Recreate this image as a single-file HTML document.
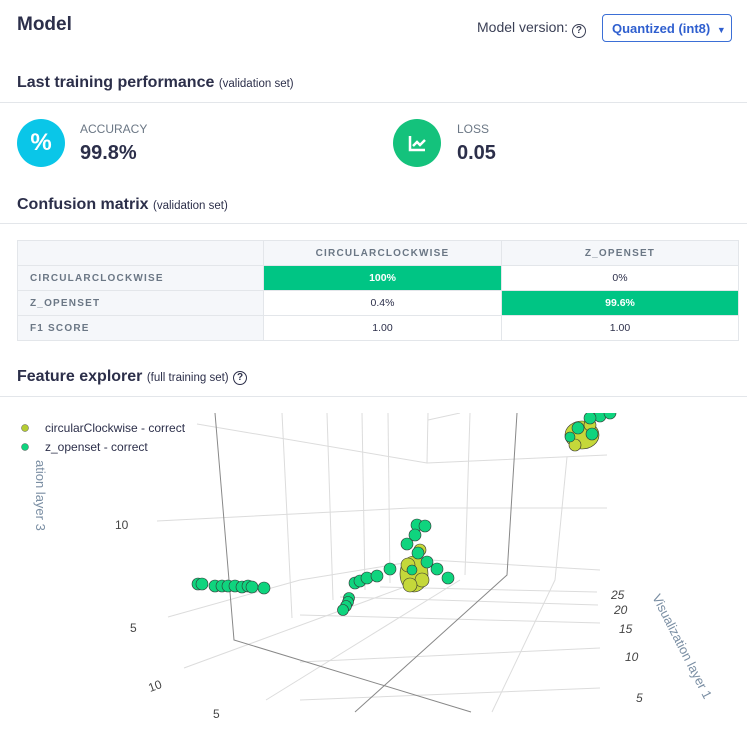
<!DOCTYPE html>
<html><head><meta charset="utf-8"><style>
*{margin:0;padding:0;box-sizing:border-box}
body{width:747px;height:733px;background:#fff;font-family:"Liberation Sans",sans-serif;color:#2c2f4a;position:relative;overflow:hidden}
.abs{position:absolute;white-space:nowrap}
.h2{font-size:16px;font-weight:bold;color:#2c2f4a}
.h2 small{font-size:11.5px;font-weight:normal}
.hr{position:absolute;left:0;width:747px;height:1px;background:#e3e6ea}
table{position:absolute;left:17px;top:240px;width:722px;border-collapse:collapse;font-size:10.5px}
td{border:1px solid #e3e6ea;height:25px;text-align:center;color:#2c2f4a}
td.h{background:#f5f7fa;color:#6b7785;letter-spacing:1.2px;font-weight:bold;font-size:10px}
td.l{text-align:left;padding-left:12px}
td.g{background:#00c584;color:#fff;font-weight:bold}
</style></head><body>
<div class="abs" style="left:17px;top:14px;font-size:19px;font-weight:bold">Model</div>
<div class="abs" style="left:477px;top:19px;font-size:14px;color:#3a3f55">Model version: <span style="display:inline-block;width:14px;height:14px;border:1.5px solid #3a3f55;border-radius:50%;font-size:10px;text-align:center;line-height:11px;font-weight:bold;vertical-align:-1px">?</span></div>
<div class="abs" style="left:602px;top:14px;width:130px;height:28px;border:1px solid #3b6fd6;border-radius:4px;color:#2f5fcf;font-size:13px;font-weight:bold;padding:6px 0 0 9px">Quantized (int8) <span style="font-size:9px;margin-left:3px">▼</span></div>
<div class="abs h2" style="left:17px;top:74px">Last training performance <small>(validation set)</small></div>
<div class="hr" style="top:102px"></div>
<div class="abs" style="left:17px;top:119px;width:48px;height:48px;border-radius:50%;background:#0ac6e8;color:#fff;font-size:24px;font-weight:bold;text-align:center;line-height:48px">%</div>
<div class="abs" style="left:80px;top:122px;font-size:12px;color:#6b7785">ACCURACY</div>
<div class="abs" style="left:80px;top:142px;font-size:20px;font-weight:bold">99.8%</div>
<div class="abs" style="left:393px;top:119px;width:48px;height:48px;border-radius:50%;background:#14c27c"><svg width="48" height="48"><path d="M17 17v14h15" stroke="#fff" stroke-width="2.5" fill="none"/><path d="M20 27l4-4 3 3 5-5" stroke="#fff" stroke-width="2.5" fill="none"/></svg></div>
<div class="abs" style="left:457px;top:122px;font-size:12px;color:#6b7785">LOSS</div>
<div class="abs" style="left:457px;top:142px;font-size:20px;font-weight:bold">0.05</div>
<div class="abs h2" style="left:17px;top:196px">Confusion matrix <small>(validation set)</small></div>
<div class="hr" style="top:223px"></div>
<table>
<tr><td class="h" style="width:246px"></td><td class="h" style="width:238px;background:#f5f7fa">CIRCULARCLOCKWISE</td><td class="h">Z_OPENSET</td></tr>
<tr><td class="h l">CIRCULARCLOCKWISE</td><td class="g">100%</td><td>0%</td></tr>
<tr><td class="h l">Z_OPENSET</td><td>0.4%</td><td class="g">99.6%</td></tr>
<tr><td class="h l">F1 SCORE</td><td>1.00</td><td>1.00</td></tr>
</table>
<div class="abs h2" style="left:17px;top:368px">Feature explorer <small>(full training set)</small> <span style="display:inline-block;width:14px;height:14px;border:1.5px solid #2c2f4a;border-radius:50%;font-size:10px;text-align:center;line-height:11px;vertical-align:1px">?</span></div>
<div class="hr" style="top:396px"></div>
<svg class="abs" style="left:0;top:0" width="747" height="733">
<defs><clipPath id="c"><rect x="0" y="413" width="747" height="300"/></clipPath></defs>
<g clip-path="url(#c)" fill="none" stroke="#dcdcdc" stroke-width="1">
<path d="M197 424L427 463L607 455"/>
<path d="M157 521L410 508L607 508"/>
<path d="M168 617L300 580L410 562"/>
<path d="M282 413L292 618"/><path d="M327 413L333 600"/><path d="M362 413L365 590"/><path d="M388 413L390 583"/><path d="M428 413L427 463"/><path d="M470 413L465 575"/>
<path d="M567 457L555 580L492 712"/>
<path d="M380 587L597 592"/><path d="M340 597L598 605"/><path d="M300 615L600 623"/><path d="M300 662L600 648"/><path d="M300 700L600 688"/>
<path d="M184 668L410 585"/><path d="M266 700L460 580"/>
<path d="M430 560L600 570"/>
<path d="M460 413L428 420"/>
<g stroke="#888"><path d="M215 413L234 640L471 712"/><path d="M517 413L507 575L355 712"/></g>
</g>
<g clip-path="url(#c)" stroke="#333" stroke-width="0.6">
<g fill="#0fd47e">
<circle cx="198" cy="584" r="6"/><circle cx="202" cy="584" r="6"/><circle cx="215" cy="586" r="6"/><circle cx="222" cy="586" r="6"/><circle cx="228" cy="586" r="6"/><circle cx="235" cy="586" r="6"/><circle cx="242" cy="587" r="6"/><circle cx="248" cy="586" r="6"/><circle cx="252" cy="587" r="6"/><circle cx="264" cy="588" r="6"/>
<circle cx="349" cy="598" r="5.5"/><circle cx="348" cy="602" r="5.5"/><circle cx="346" cy="606" r="5.5"/><circle cx="343" cy="610" r="5.5"/>
<circle cx="355" cy="583" r="6"/><circle cx="360" cy="581" r="6"/><circle cx="367" cy="578" r="6"/><circle cx="377" cy="576" r="6"/><circle cx="390" cy="569" r="6"/>
<circle cx="417" cy="525" r="6"/><circle cx="425" cy="526" r="6"/><circle cx="415" cy="535" r="6"/><circle cx="407" cy="544" r="6"/><circle cx="437" cy="569" r="6"/><circle cx="448" cy="578" r="6"/>
</g>
<g fill="#c5d83a"><ellipse cx="414" cy="574" rx="14" ry="18"/><circle cx="420" cy="550" r="6"/><circle cx="408" cy="565" r="7"/><circle cx="422" cy="580" r="7"/><circle cx="410" cy="585" r="7"/></g>
<g fill="#0fd47e"><circle cx="418" cy="553" r="6"/><circle cx="427" cy="562" r="6"/><circle cx="412" cy="570" r="5"/></g>
<g fill="#c5d83a"><ellipse cx="582" cy="435" rx="17" ry="14"/><circle cx="575" cy="445" r="6"/><circle cx="590" cy="425" r="6"/></g>
<g fill="#0fd47e"><circle cx="600" cy="416" r="6"/><circle cx="610" cy="413" r="6"/><circle cx="590" cy="418" r="6"/><circle cx="578" cy="428" r="6"/><circle cx="592" cy="434" r="6"/><circle cx="570" cy="437" r="5"/></g>
</g>
<circle cx="25" cy="428" r="3.5" fill="#b5cc33" stroke="#555" stroke-width="0.5"/>
<circle cx="25" cy="447" r="3.5" fill="#0fd47e" stroke="#555" stroke-width="0.5"/>
<g font-family="Liberation Sans, sans-serif" font-size="12" fill="#2c2f4a">
<text x="45" y="432">circularClockwise - correct</text>
<text x="45" y="451">z_openset - correct</text>
</g>
<g font-family="Liberation Sans, sans-serif" font-size="12" fill="#444">
<text x="115" y="529">10</text><text x="130" y="632">5</text>
<text x="148" y="690" transform="rotate(-20 155 685)">10</text>
<text x="213" y="718">5</text>
<g font-style="italic"><text x="611" y="599">25</text><text x="614" y="614">20</text><text x="619" y="633">15</text><text x="625" y="661">10</text><text x="636" y="702">5</text></g>
</g>
<text x="0" y="0" font-family="Liberation Sans, sans-serif" font-size="13" fill="#7a8ea3" transform="translate(36 460) rotate(90)">ation layer 3</text>
<text x="0" y="0" font-family="Liberation Sans, sans-serif" font-size="13" fill="#7a8ea3" transform="translate(652 597) rotate(63)">Visualization layer 1</text>
</svg>
</body></html>
